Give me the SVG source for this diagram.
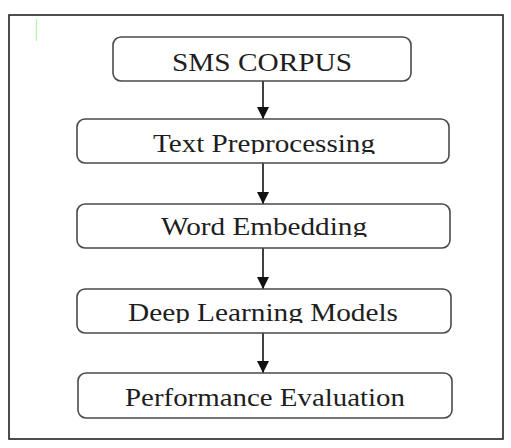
<svg xmlns="http://www.w3.org/2000/svg" width="511" height="448" viewBox="0 0 511 448">
<style>
.box{fill:#fff;stroke:#4a4a4a;stroke-width:1.6}
.lbl{font-family:"Liberation Serif","Times New Roman",serif;font-size:25px;fill:#1e1e1e;text-anchor:middle}
.conn{stroke:#111;stroke-width:1.6;fill:none}
</style>
<defs>
<marker id="ah" markerWidth="12" markerHeight="12" refX="12" refY="6" orient="auto" markerUnits="userSpaceOnUse">
<path d="M0,0 L12,6 L0,12 Z" fill="#111"/>
</marker>
<clipPath id="c2"><rect x="0" y="0" width="511" height="154"/></clipPath>
<clipPath id="c3"><rect x="0" y="0" width="511" height="237"/></clipPath>
<clipPath id="c4"><rect x="0" y="0" width="511" height="323"/></clipPath>
</defs>
<rect x="0" y="0" width="511" height="448" fill="#fff"/>
<rect x="9" y="15" width="494" height="424" fill="none" stroke="#222" stroke-width="1.6"/>
<line x1="36.5" y1="19" x2="36.5" y2="41" stroke="#b8f0b0" stroke-width="1.2"/>
<g id="connectors">
<line class="conn" x1="263" y1="81" x2="263" y2="119" marker-end="url(#ah)"/>
<line class="conn" x1="263" y1="163" x2="263" y2="204" marker-end="url(#ah)"/>
<line class="conn" x1="263" y1="248" x2="263" y2="289" marker-end="url(#ah)"/>
<line class="conn" x1="263" y1="333" x2="263" y2="373" marker-end="url(#ah)"/>
</g>
<g id="n1">
<rect class="box" x="113" y="37" width="298" height="44" rx="8"/>
<text class="lbl" x="262" y="71" textLength="180" lengthAdjust="spacingAndGlyphs">SMS CORPUS</text>
</g>
<g id="n2">
<rect class="box" x="77" y="119" width="372" height="44" rx="8"/>
<text class="lbl" x="264" y="152" textLength="222" lengthAdjust="spacingAndGlyphs" clip-path="url(#c2)">Text Preprocessing</text>
</g>
<g id="n3">
<rect class="box" x="77" y="204" width="373" height="44" rx="8"/>
<text class="lbl" x="264" y="235" textLength="206" lengthAdjust="spacingAndGlyphs" clip-path="url(#c3)">Word Embedding</text>
</g>
<g id="n4">
<rect class="box" x="77" y="289" width="374" height="44" rx="8"/>
<text class="lbl" x="263" y="321" textLength="270" lengthAdjust="spacingAndGlyphs" clip-path="url(#c4)">Deep Learning Models</text>
</g>
<g id="n5">
<rect class="box" x="78" y="373" width="374" height="45" rx="8"/>
<text class="lbl" x="265" y="406" textLength="280" lengthAdjust="spacingAndGlyphs">Performance Evaluation</text>
</g>
</svg>
